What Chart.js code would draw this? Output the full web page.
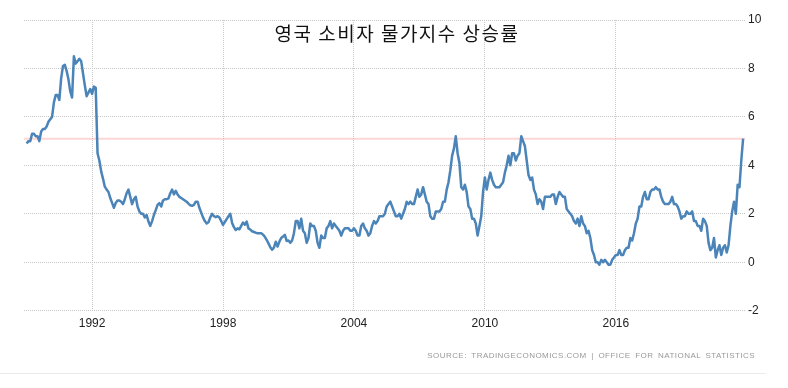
<!DOCTYPE html>
<html><head><meta charset="utf-8">
<script src="https://cdn.jsdelivr.net/npm/chart.js@4.4.0/dist/chart.umd.min.js"></script>
<style>
html,body{margin:0;padding:0;background:#fff;}
#wrap{position:relative;width:788px;height:388px;overflow:hidden;}
canvas{position:absolute;left:0;top:0;}
#title{position:absolute;left:0;width:794px;top:23px;text-align:center;font-family:"Noto Sans CJK KR";font-size:19px;line-height:20px;letter-spacing:1.5px;color:#111;}
#source{position:absolute;right:33px;top:351px;font-family:"Liberation Sans",Arial,sans-serif;font-size:8px;line-height:10px;letter-spacing:0.45px;word-spacing:2px;color:#999;white-space:nowrap;}
#sep{position:absolute;left:0;top:373px;width:766px;height:1px;background:#ececec;}
</style></head>
<body>
<div id="wrap">
<canvas id="c" width="788" height="388"></canvas>
<div id="title">영국 소비자 물가지수 상승률</div>
<div id="source">SOURCE: TRADINGECONOMICS.COM | OFFICE FOR NATIONAL STATISTICS</div>
<div id="sep"></div>
</div>
<script>
// Monthly UK CPI annual rate (%), January to December of each year
const cpi1989 = [4.9, 5.0, 5.0, 5.3, 5.3, 5.2, 5.2, 5.0, 5.4, 5.5, 5.5, 5.6];
const cpi1990 = [5.8, 5.9, 6.0, 6.6, 6.9, 6.9, 6.7, 7.6, 8.1, 8.15, 7.9, 7.55];
const cpi1991 = [7.05, 6.8, 8.5, 8.2, 8.3, 8.4, 8.3, 7.8, 7.3, 6.85, 7.0, 7.15];
const cpi1992 = [6.95, 7.25, 7.2, 4.5, 4.2, 3.75, 3.45, 3.12, 3.0, 2.9, 2.65, 2.45];
const cpi1993 = [2.25, 2.45, 2.55, 2.55, 2.5, 2.4, 2.6, 2.85, 3.0, 2.7, 2.4, 2.6];
const cpi1994 = [2.7, 2.3, 2.1, 2.0, 2.0, 1.85, 1.95, 1.68, 1.5, 1.7, 1.95, 2.15];
const cpi1995 = [2.37, 2.44, 2.3, 2.55, 2.6, 2.6, 2.64, 2.85, 3.0, 2.8, 2.95, 2.8];
const cpi1996 = [2.7, 2.65, 2.6, 2.55, 2.5, 2.42, 2.35, 2.33, 2.37, 2.5, 2.5, 2.25];
const cpi1997 = [2.05, 1.85, 1.7, 1.6, 1.65, 1.85, 2.0, 1.9, 1.86, 1.9, 1.85, 1.7];
const cpi1998 = [1.54, 1.66, 1.78, 1.9, 2.0, 1.62, 1.45, 1.33, 1.4, 1.36, 1.5, 1.64];
const cpi1999 = [1.55, 1.68, 1.4, 1.35, 1.28, 1.25, 1.22, 1.2, 1.2, 1.2, 1.14, 1.05];
const cpi2000 = [0.92, 0.78, 0.62, 0.52, 0.6, 0.85, 0.65, 0.85, 1.0, 1.06, 1.13, 0.88];
const cpi2001 = [0.9, 0.8, 0.9, 1.2, 1.7, 1.7, 1.4, 1.8, 1.3, 1.2, 0.8, 1.0];
const cpi2002 = [1.6, 1.5, 1.5, 1.3, 0.8, 0.6, 1.1, 1.0, 1.0, 1.4, 1.5, 1.7];
const cpi2003 = [1.4, 1.6, 1.5, 1.4, 1.3, 1.1, 1.3, 1.4, 1.4, 1.4, 1.3, 1.3];
const cpi2004 = [1.4, 1.3, 1.1, 1.1, 1.5, 1.6, 1.4, 1.3, 1.1, 1.2, 1.5, 1.7];
const cpi2005 = [1.6, 1.7, 1.9, 1.9, 1.9, 2.0, 2.3, 2.4, 2.5, 2.3, 2.1, 1.9];
const cpi2006 = [1.9, 2.0, 1.8, 2.0, 2.2, 2.5, 2.4, 2.5, 2.4, 2.4, 2.7, 3.0];
const cpi2007 = [2.7, 2.8, 3.1, 2.8, 2.5, 2.4, 1.9, 1.8, 1.8, 2.1, 2.1, 2.1];
const cpi2008 = [2.2, 2.5, 2.5, 3.0, 3.3, 3.8, 4.4, 4.7, 5.2, 4.5, 4.1, 3.1];
const cpi2009 = [3.0, 3.2, 2.9, 2.3, 2.2, 1.8, 1.8, 1.6, 1.1, 1.5, 1.9, 2.9];
const cpi2010 = [3.5, 3.0, 3.4, 3.7, 3.4, 3.2, 3.1, 3.1, 3.1, 3.2, 3.3, 3.7];
const cpi2011 = [4.0, 4.4, 4.0, 4.5, 4.5, 4.2, 4.4, 4.5, 5.2, 5.0, 4.8, 4.2];
const cpi2012 = [3.6, 3.4, 3.5, 3.0, 2.8, 2.4, 2.6, 2.5, 2.2, 2.7, 2.7, 2.7];
const cpi2013 = [2.7, 2.8, 2.8, 2.4, 2.7, 2.9, 2.8, 2.7, 2.7, 2.2, 2.1, 2.0];
const cpi2014 = [1.9, 1.7, 1.6, 1.8, 1.5, 1.9, 1.6, 1.5, 1.2, 1.3, 1.0, 0.5];
const cpi2015 = [0.3, 0.0, 0.0, -0.1, 0.1, 0.0, 0.1, 0.0, -0.1, -0.1, 0.1, 0.2];
const cpi2016 = [0.3, 0.3, 0.5, 0.3, 0.3, 0.5, 0.6, 0.6, 1.0, 0.9, 1.2, 1.6];
const cpi2017 = [1.8, 2.3, 2.3, 2.7, 2.9, 2.6, 2.6, 2.9, 3.0, 3.0, 3.1, 3.0];
const cpi2018 = [3.0, 2.7, 2.5, 2.4, 2.4, 2.4, 2.5, 2.7, 2.4, 2.4, 2.3, 2.1];
const cpi2019 = [1.8, 1.9, 1.9, 2.1, 2.0, 2.0, 2.1, 1.7, 1.7, 1.5, 1.5, 1.3];
const cpi2020 = [1.8, 1.7, 1.5, 0.8, 0.5, 0.6, 1.0, 0.2, 0.5, 0.7, 0.3, 0.6];
const cpi2021 = [0.7, 0.4, 0.7, 1.5, 2.1, 2.5, 2.0, 3.2, 3.1, 4.2, 5.1];

const firstYear = 1989;
const xTickYears = [1992, 1998, 2004, 2010, 2016];
const yTickValues = [-2, 0, 2, 4, 6, 8, 10];

const yearly = [cpi1989,cpi1990,cpi1991,cpi1992,cpi1993,cpi1994,cpi1995,cpi1996,cpi1997,cpi1998,
  cpi1999,cpi2000,cpi2001,cpi2002,cpi2003,cpi2004,cpi2005,cpi2006,cpi2007,cpi2008,cpi2009,cpi2010,
  cpi2011,cpi2012,cpi2013,cpi2014,cpi2015,cpi2016,cpi2017,cpi2018,cpi2019,cpi2020,cpi2021];
const series = [];
yearly.forEach((arr, yi) => arr.forEach((v, m) => series.push({x: firstYear + yi + m / 12, y: v})));
const latest = series[series.length - 1].y;
const xMin = 1988.88, xMax = 2021.92;

const gridCommon = {color: '#c8c8c8', lineWidth: 1, drawTicks: false};
const tickFont = {family: '"Liberation Sans", Arial, sans-serif', size: 12};

new Chart(document.getElementById('c'), {
  type: 'line',
  data: {datasets: [
    {data: series, borderColor: '#4a84b8', borderWidth: 2.5, pointRadius: 0, tension: 0, order: 1, borderJoinStyle: 'round'},
    {data: [{x: xMin, y: latest}, {x: xMax, y: latest}], borderColor: 'rgba(255,150,150,0.4)', borderWidth: 2, pointRadius: 0, order: 2}
  ]},
  options: {
    responsive: false, animation: false, events: [],
    layout: {padding: {left: 24, top: 20, right: 0, bottom: 0}},
    plugins: {legend: {display: false}, tooltip: {enabled: false}, title: {display: false}},
    scales: {
      x: {type: 'linear', min: xMin, max: xMax,
        afterBuildTicks: s => { s.ticks = xTickYears.map(v => ({value: v})); },
        afterFit: s => { s.height = 77.3; },
        grid: gridCommon, border: {display: false, dash: [1, 1]},
        ticks: {padding: 6, color: '#222', font: tickFont, callback: v => String(v), maxRotation: 0, autoSkip: false}
      },
      y: {position: 'right', min: -2, max: 10,
        afterBuildTicks: s => { s.ticks = yTickValues.map(v => ({value: v})); },
        afterFit: s => { s.width = 43; },
        grid: gridCommon, border: {display: false, dash: [1, 1]},
        ticks: {padding: 3, color: '#222', font: tickFont, callback: v => String(v)}
      }
    }
  }
});
</script>
</body></html>
